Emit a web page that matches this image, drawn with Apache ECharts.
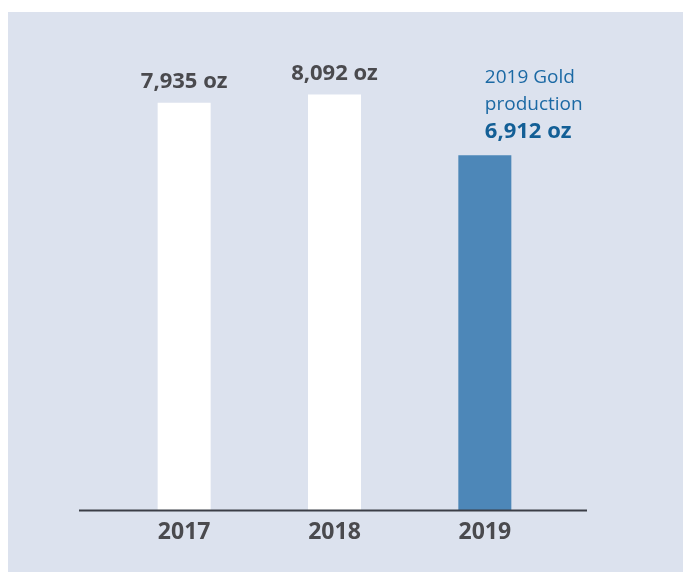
<!DOCTYPE html>
<html>
<head>
<meta charset="utf-8">
<style>
  html, body { margin: 0; padding: 0; background: #ffffff; }
  #chart { width: 683px; height: 572px; }
</style>
<script src="https://cdn.jsdelivr.net/npm/echarts@6/dist/echarts.min.js"></script>
</head>
<body>
<div id="chart"></div>
<script>
// data
const years = ['2017', '2018', '2019'];
const goldOz = [7935, 8092, 6912];
const valueLabels = ['7,935 oz', '8,092 oz', '6,912 oz'];
const highlightCaption = ['2019 Gold', 'production'];

const myChart = echarts.init(document.getElementById('chart'));

const barData = goldOz.map((v, i) => {
  const last = i === goldOz.length - 1;
  return {
    value: v,
    itemStyle: { color: last ? '#4d87b8' : '#ffffff' },
    label: last ? {
      formatter: '{cap|' + highlightCaption.join('}\n{cap|') + '}\n{big|' + valueLabels[i] + '}',
      align: 'left',
      distance: 9,
      rich: {
        cap: { fontSize: 19, fontWeight: 'normal', fontFamily: 'Open Sans', color: '#1b69a4', lineHeight: 27 },
        big: { fontSize: 22, fontWeight: 'bold', fontFamily: 'Open Sans', color: '#135f96', lineHeight: 28 }
      }
    } : {
      formatter: valueLabels[i]
    }
  };
});

const option = {
  backgroundColor: '#ffffff',
  animation: false,
  graphic: [
    {
      type: 'rect',
      z: -10,
      silent: true,
      shape: { x: 8, y: 12, width: 675, height: 560 },
      style: { fill: '#dce2ee' }
    },
    {
      type: 'line',
      z: 10,
      silent: true,
      shape: { x1: 79, y1: 510.5, x2: 587, y2: 510.5 },
      style: { stroke: '#3b3e46', lineWidth: 2 }
    }
  ],
  grid: { left: 109, right: 123, top: 48, bottom: 62 },
  xAxis: {
    type: 'category',
    data: years,
    axisLine: { show: false },
    axisTick: { show: false },
    axisLabel: {
      margin: 11,
      fontSize: 23,
      fontWeight: 'bold',
      fontFamily: 'Open Sans',
      color: '#4a4a4e'
    }
  },
  yAxis: {
    type: 'value',
    min: 0,
    max: 9000,
    show: false,
    splitLine: { show: false }
  },
  series: [
    {
      type: 'bar',
      barWidth: 53,
      data: barData,
      label: {
        show: true,
        position: 'top',
        distance: 10,
        fontSize: 22,
        fontWeight: 'bold',
        fontFamily: 'Open Sans',
        color: '#4a4a4e'
      }
    }
  ]
};

myChart.setOption(option);
</script>
</body>
</html>
